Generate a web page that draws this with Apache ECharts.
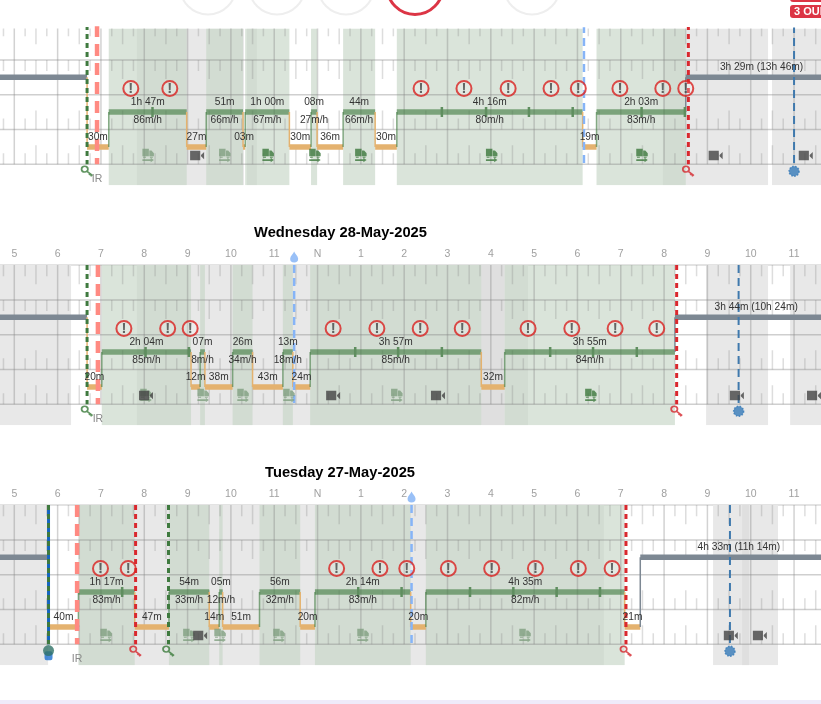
<!DOCTYPE html>
<html>
<head>
<meta charset="utf-8">
<style>html,body{margin:0;padding:0;background:#fff}#logChart{width:821px;height:704px}</style>
<script src="https://cdn.jsdelivr.net/npm/echarts@6/dist/echarts.min.js"></script>
</head>
<body>
<div id="logChart"></div>
<script>
// hours of the day on the x axis, 12 = noon
var tickLabels = ['', '5', '6', '7', '8', '9', '10', '11', 'N', '1', '2', '3', '4', '5', '6', '7', '8', '9', '10', '11', ''];

// status rows: 2.5 off duty, 1.5 driving, 0.5 on duty
var OFF = 2.5, DRV = 1.5, ON = 0.5;

// --- Thursday (title hidden under the page header)
var thuStatus = [OFF, ON, DRV, ON, DRV, ON, DRV, ON, DRV, ON, DRV, ON, DRV, ON, DRV, OFF];
var thuStarts = [4, 6.68, 7.18, 8.98, 9.43, 10.28, 10.33, 11.35, 11.85, 11.99, 12.59, 13.33, 13.83, 18.12, 18.44, 20.5, 24];
var thuLabels = ['', '30m', '1h 47m', '27m', '51m', '03m', '1h 00m', '30m', '08m', '36m', '44m', '30m', '4h 16m', '19m', '2h 03m', '3h 29m (13h 46m)'];
var thuSpeeds = ['', '', '86m/h', '', '66m/h', '', '67m/h', '', '27m/h', '', '66m/h', '', '80m/h', '', '83m/h', ''];
var thuGray = [[7.83, 10.3], [10.37, 10.6], [19.97, 22.4], [22.49, 24]];
var thuShade = [];
var thuDriveMarks = [8.19, 14.87, 15.89, 16.88, 17.89, 19.48, 20.48];
var thuAlerts = [7.69, 8.59, 14.39, 15.38, 16.4, 17.39, 18.02, 18.98, 19.97, 20.5];
var thuTrucks = [10.86, 11.94, 13.0, 16.02, 19.49];
var thuTrucksFaded = [8.09, 9.86];
var thuCameras = [9.22, 21.19, 23.27];
var thuEvents = {green: [6.68], pink: [6.91], sky: [18.15], red: [20.56], blue: [23.0], solid: []};

// --- Wednesday
var wedStatus = [OFF, ON, DRV, ON, DRV, ON, DRV, ON, DRV, ON, DRV, ON, DRV, OFF];
var wedStarts = [4, 6.68, 7.02, 9.08, 9.29, 9.4, 10.04, 10.5, 11.2, 11.43, 11.83, 15.78, 16.32, 20.25, 24];
var wedLabels = ['', '20m', '2h 04m', '12m', '07m', '38m', '26m', '43m', '13m', '24m', '3h 57m', '32m', '3h 55m', '3h 44m (10h 24m)'];
var wedSpeeds = ['', '', '85m/h', '', '8m/h', '', '34m/h', '', '18m/h', '', '85m/h', '', '84m/h', ''];
var wedGray = [[4, 6.31], [7.83, 16.86], [20.97, 22.4], [22.91, 24]];
var wedShade = [[15.78, 16.32]];
var wedDriveMarks = [8.03, 9.03, 12.87, 13.86, 14.87, 17.37, 18.36, 19.37];
var wedAlerts = [7.53, 8.54, 9.06, 12.36, 13.37, 14.37, 15.34, 16.86, 17.87, 18.87, 19.83];
var wedTrucks = [18.31];
var wedTrucksFaded = [8.04, 9.36, 10.28, 11.34, 13.83];
var wedCameras = [8.04, 12.36, 14.78, 21.68, 23.46];
var wedEvents = {green: [6.68], pink: [6.93], sky: [11.46], red: [20.29], blue: [21.72], solid: []};

// --- Tuesday
var tueStatus = [OFF, ON, DRV, ON, DRV, ON, DRV, ON, DRV, ON, DRV, ON, DRV, ON, OFF];
var tueStarts = [4, 5.79, 6.48, 7.78, 8.57, 9.5, 9.73, 9.81, 10.66, 11.6, 11.94, 14.15, 14.5, 19.09, 19.45, 24];
var tueLabels = ['', '40m', '1h 17m', '47m', '54m', '14m', '05m', '51m', '56m', '20m', '2h 14m', '20m', '4h 35m', '21m', '4h 33m (11h 14m)'];
var tueSpeeds = ['', '', '83m/h', '', '33m/h', '', '12m/h', '', '32m/h', '', '83m/h', '', '82m/h', '', ''];
var tueGray = [[4, 5.78], [6.49, 18.61], [21.13, 22.63]];
var tueShade = [[21.8, 21.96]];
var tueDriveMarks = [7.49, 12.94, 13.94, 15.52, 16.52, 17.52, 18.52];
var tueAlerts = [6.99, 7.63, 12.44, 13.44, 14.06, 15.02, 16.02, 17.03, 18.02, 18.8];
var tueTrucks = [];
var tueTrucksFaded = [7.12, 9.03, 9.75, 11.11, 13.05, 16.79];
var tueCameras = [9.29, 21.54, 22.21];
var tueEvents = {green: [5.79, 8.56], pink: [6.45], sky: [14.17], red: [7.8, 19.12], blue: [21.52], solid: [5.79]};

var FONT = '"Liberation Sans", Arial, sans-serif';
var TRUCK = 'path://M0 0h9v8.6H0z M9.6 2h3L16 5.2v3.4H9.6z M1 9.2h4v1.2H1z M10.5 9.2h4v1.2h-4z M0 12h11.5v-1.6L16 13l-4.5 2.6V14H0z';
var CAMERA = 'path://M0 0h10.5v9H0z M11.3 4l3.2-3v7L11.3 5z';
var KEY = 'path://M0 4a4 4 0 1 0 8 0a4 4 0 1 0 -8 0z M7 7L14 13 M11 10.4L9.4 12 M13 12.2L11.4 14';
var DROP = 'path://M5 0C6 3 10 6 10 9.5A5 5 0 0 1 0 9.5C0 6 4 3 5 0z';

var grids = [], xAxes = [], yAxes = [], series = [];

function addDay(i, day, top, yMax) {
    grids.push({left: -29.02, width: 866.4, top: top, height: (yMax + 0.6) * 34.8, show: false, outerBoundsMode: 'none'});
    xAxes.push({
        type: 'value', gridIndex: i, min: 4, max: 24, interval: 1, position: 'top',
        axisLine: {show: i > 0, onZero: false, lineStyle: {color: '#e3e3e3', width: 2}},
        axisTick: {show: false},
        splitLine: {show: false},
        axisLabel: {
            show: i > 0, color: '#a0a0a0', fontSize: 10.5, fontFamily: FONT, margin: 5,
            formatter: function (v) { return tickLabels[v - 4]; }
        }
    });
    yAxes.push({type: 'value', gridIndex: i, min: -0.6, max: yMax, show: false});

    var on = {coordinateSystem: 'cartesian2d', xAxisIndex: i, yAxisIndex: i, silent: true};
    function custom(z, data, render, clip) {
        series.push(Object.assign({type: 'custom', z: z, data: data, renderItem: render, clip: clip !== false}, on));
    }
    function band(color) {
        return function (params, api) {
            var a = api.coord([api.value(0), yMax]);
            var b = api.coord([api.value(1), -0.6]);
            return {type: 'rect', shape: {x: a[0], y: a[1], width: b[0] - a[0], height: b[1] - a[1]}, style: {fill: color}};
        };
    }

    // light gray bands below, green drive bands on top of them
    custom(1, day.gray, band('#e8e8e8'));
    custom(1, day.shade, band('#dfdfdf'));
    var driveBands = [];
    day.status.forEach(function (s, k) {
        if (s === DRV) driveBands.push([day.starts[k], day.starts[k + 1]]);
    });
    custom(2, driveBands, band('rgba(198,213,198,0.65)'));

    // log sheet lines: rows, hour lines, quarter hour ticks
    custom(3, [[0]], function (params, api) {
        var kids = [], y, h, q;
        function seg(x1, y1, x2, y2, color, w) {
            var a = api.coord([x1, y1]), b = api.coord([x2, y2]);
            kids.push({type: 'line', shape: {x1: a[0], y1: a[1], x2: b[0], y2: b[1]}, style: {stroke: color, lineWidth: w}});
        }
        for (y = 0; y < 4; y++) seg(4, y, 24, y, 'rgba(130,130,130,0.38)', 1.5);
        for (h = 4; h < 24; h++) {
            seg(h, 0, h, 4, 'rgba(130,130,130,0.36)', 1.5);
            for (q = 1; q < 4; q++) {
                var len = q === 2 ? 0.55 : 0.32;
                var col = 'rgba(130,130,130,0.27)';
                seg(h + q / 4, 4, h + q / 4, 4 - len, col, 1.5);
                seg(h + q / 4, 3, h + q / 4, 3 - len, col, 1.5);
                seg(h + q / 4, 1, h + q / 4, 1 + len, col, 1.5);
                seg(h + q / 4, 0, h + q / 4, len, col, 1.5);
            }
        }
        return {type: 'group', children: kids};
    });

    // duty status steps
    var colors = {};
    colors[OFF] = '#7d8893';
    colors[DRV] = 'rgba(60,120,60,0.6)';
    colors[ON] = '#e4b26f';
    var steps = day.status.map(function (s, k) {
        return [day.starts[k], day.starts[k + 1], s, k ? day.status[k - 1] : s];
    });
    custom(4, steps, function (params, api) {
        var a = api.coord([api.value(0), api.value(2)]);
        var b = api.coord([api.value(1), api.value(2)]);
        var p = api.coord([api.value(0), api.value(3)]);
        var c = colors[api.value(2)];
        return {type: 'group', children: [
            {type: 'line', shape: {x1: p[0], y1: p[1], x2: a[0], y2: a[1]}, style: {stroke: c, lineWidth: 1.5}},
            {type: 'line', shape: {x1: a[0], y1: a[1], x2: b[0], y2: b[1]}, style: {stroke: c, lineWidth: 5.5}}
        ]};
    });
    custom(5, day.marks.map(function (h) { return [h]; }), function (params, api) {
        var a = api.coord([api.value(0), DRV]);
        return {type: 'line', shape: {x1: a[0], y1: a[1] - 5, x2: a[0], y2: a[1] + 5}, style: {stroke: '#5f8e5f', lineWidth: 2.5}};
    });

    // event lines
    function eventLine(list, color, width, dash) {
        list.forEach(function (h) {
            series.push(Object.assign({
                type: 'line', z: 6, symbol: 'none', animation: false,
                data: [[h, 4], [h, 0]],
                lineStyle: {color: color, width: width, type: dash}
            }, on));
        });
    }
    eventLine(day.events.solid, '#1565c0', 3, 'solid');
    eventLine(day.events.pink, '#ff8a82', 4.5, [12, 7]);
    eventLine(day.events.sky, '#86b4f7', 2.5, [8, 5]);
    eventLine(day.events.blue, '#3f79ad', 2, [8, 5]);
    eventLine(day.events.green, '#3f7a3f', 3, [5, 4]);
    eventLine(day.events.red, '#d9282e', 3, [5, 4]);

    // icons
    function icons(list, y, symbol, size, style, z) {
        series.push(Object.assign({
            type: 'scatter', z: z || 7, clip: false, symbol: symbol, symbolSize: size,
            data: list.map(function (h) { return [h, y]; }), itemStyle: style
        }, on));
    }
    icons(day.trucksFaded, 0.25, TRUCK, [11.5, 13.5], {color: '#7f9f7f'});
    icons(day.trucks, 0.25, TRUCK, [11.5, 13.5], {color: '#3b773b'});
    icons(day.cameras, 0.25, CAMERA, [14, 9.5], {color: '#444'}, 8);
    icons(day.events.blue, -0.2, 'circle', 10, {color: '#3579b8', borderColor: '#3579b8', borderWidth: 1.5, borderType: 'dotted'});
    icons(day.events.red, -0.2, KEY, [11, 10], {color: 'rgba(0,0,0,0)', borderColor: '#d4262c', borderWidth: 1.7});
    var greenKeys = day.events.green.filter(function (h) { return day.events.solid.indexOf(h) < 0; });
    icons(greenKeys, -0.2, KEY, [11, 10], {color: 'rgba(0,0,0,0)', borderColor: '#3a7a3a', borderWidth: 1.7});
    // the top of the first sheet is under the page header, so its drop is not shown
    if (yMax === 4) icons(day.events.sky, 4.23, DROP, [8, 11], {color: '#7fb0f5'});
    if (day.events.solid.length) {
        icons(day.events.solid, -0.33, 'roundRect', [8, 9], {color: '#1b6fd0'});
        icons(day.events.solid, -0.18, 'circle', 11, {color: '#2f7266'}, 8);
    }
    series.push(Object.assign({
        type: 'scatter', z: 8, clip: false, symbol: 'circle', symbolSize: 15,
        data: day.alerts.map(function (h) { return [h, 2.18]; }),
        itemStyle: {color: 'rgba(255,255,255,0.3)', borderColor: '#d9201f', borderWidth: 2},
        label: {show: true, position: 'inside', formatter: '!', color: '#444', fontSize: 15, fontWeight: 'bold', fontFamily: FONT}
    }, on));

    // duration and speed labels, centred on each segment
    custom(9, steps, function (params, api) {
        var k = params.dataIndex, level = api.value(2);
        var mid = (api.value(0) + api.value(1)) / 2;
        var a = api.coord([mid, level + 0.28]);
        var kids = [{type: 'text', style: {x: a[0], y: a[1], text: day.labels[k], textAlign: 'center', textVerticalAlign: 'middle', fill: '#333', font: '10.2px ' + FONT}}];
        if (day.speeds[k]) {
            var b = api.coord([mid, level - 0.24]);
            kids.push({type: 'text', style: {x: b[0], y: b[1], text: day.speeds[k], textAlign: 'center', textVerticalAlign: 'middle', fill: '#333', font: '10.2px ' + FONT}});
        }
        return {type: 'group', children: kids};
    }, false);
    custom(9, day.events.pink.map(function (h) { return [h]; }), function (params, api) {
        var a = api.coord([api.value(0), -0.43]);
        return {type: 'text', style: {x: a[0], y: a[1], text: 'IR', textAlign: 'center', textVerticalAlign: 'middle', fill: '#888', font: '10.5px ' + FONT}};
    }, false);
}

addDay(0, {status: thuStatus, starts: thuStarts, labels: thuLabels, speeds: thuSpeeds, gray: thuGray, shade: thuShade, marks: thuDriveMarks, alerts: thuAlerts, trucks: thuTrucks, trucksFaded: thuTrucksFaded, cameras: thuCameras, events: thuEvents}, 28.6, 3.9);
addDay(1, {status: wedStatus, starts: wedStarts, labels: wedLabels, speeds: wedSpeeds, gray: wedGray, shade: wedShade, marks: wedDriveMarks, alerts: wedAlerts, trucks: wedTrucks, trucksFaded: wedTrucksFaded, cameras: wedCameras, events: wedEvents}, 265.1, 4);
addDay(2, {status: tueStatus, starts: tueStarts, labels: tueLabels, speeds: tueSpeeds, gray: tueGray, shade: tueShade, marks: tueDriveMarks, alerts: tueAlerts, trucks: tueTrucks, trucksFaded: tueTrucksFaded, cameras: tueCameras, events: tueEvents}, 505.1, 4);

function ring(cx, color, width) {
    return {type: 'circle', shape: {cx: cx, cy: -13.5, r: 28}, style: {fill: 'none', stroke: color, lineWidth: width}};
}

var myChart = echarts.init(document.getElementById('logChart'));
var option = {
    animation: false,
    backgroundColor: '#fff',
    title: [
        {text: 'Wednesday 28-May-2025', left: 335.5, top: 220, textAlign: 'center', textStyle: {fontSize: 14.7, fontWeight: 'bold', color: '#000', fontFamily: FONT}},
        {text: 'Tuesday 27-May-2025', left: 335, top: 460, textAlign: 'center', textStyle: {fontSize: 14.7, fontWeight: 'bold', color: '#000', fontFamily: FONT}}
    ],
    grid: grids,
    xAxis: xAxes,
    yAxis: yAxes,
    series: series,
    graphic: [
        ring(208, '#eeeeee', 2),
        ring(277, '#eeeeee', 2),
        ring(346, '#eeeeee', 2),
        ring(415, '#dc3545', 3),
        ring(532, '#eeeeee', 2),
        {type: 'rect', shape: {x: 790, y: -8, width: 40, height: 10, r: 3}, style: {fill: '#dc3545'}},
        {type: 'rect', shape: {x: 790, y: 5, width: 40, height: 13, r: 3}, style: {fill: '#dc3545'}},
        {type: 'text', x: 794, y: 6.5, style: {text: '3 OUB', fill: '#fff', font: 'bold 11px ' + FONT}},
        {type: 'rect', shape: {x: 0, y: 700, width: 821, height: 4}, style: {fill: '#efebfa'}}
    ]
};
myChart.setOption(option);
</script>
</body>
</html>
